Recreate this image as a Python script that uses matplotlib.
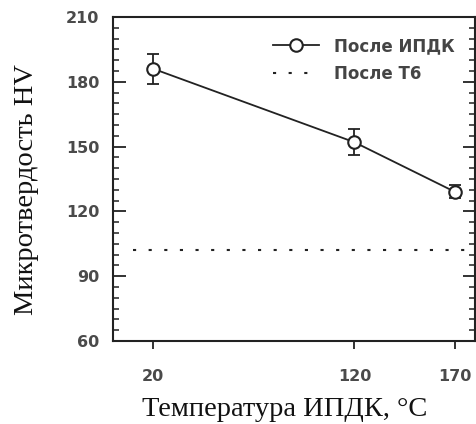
import matplotlib.pyplot as plt
from matplotlib.ticker import MultipleLocator

# данные
temp = [20, 120, 170]
hv = [186, 152, 129]
hv_err = [7, 6, 3]
t6_x = [10, 180]
t6_hv = [102, 102]
xticks = [20, 120, 170]
yticks = [60, 90, 120, 150, 180, 210]

fig = plt.figure(figsize=(4.77, 4.24), dpi=100)
ax = fig.add_axes([0.237, 0.196, 0.759, 0.764])

ax.errorbar(temp, hv, yerr=hv_err, fmt='none', ecolor='#222222',
            capsize=4, elinewidth=1.3, capthick=1.3, zorder=2)
ax.plot(temp, hv, color='#222222', lw=1.3, marker='o', ms=9, mfc='white',
        mec='#222222', mew=1.5, label='После ИПДК', zorder=3)
ax.plot(t6_x, t6_hv, color='#222222', lw=1.5, linestyle=(0, (1.5, 6)),
        label='После Т6')

ax.set_xlim(0, 180)
ax.set_ylim(60, 210)
ax.set_xticks(xticks)
ax.set_yticks(yticks)
ax.yaxis.set_minor_locator(MultipleLocator(5))

tick_font = dict(fontsize=11.5, fontweight='bold', color='#4a4a4a')
ax.set_xticklabels([str(t) for t in xticks], **tick_font)
ax.set_yticklabels([str(t) for t in yticks], **tick_font)

ax.tick_params(axis='x', direction='out', length=6, width=1.3, pad=14,
               colors='#222222', labelcolor='#4a4a4a')
ax.tick_params(axis='y', which='major', direction='in', length=9, width=1.3,
               right=True, pad=10, colors='#222222', labelcolor='#4a4a4a')
ax.tick_params(axis='y', which='minor', direction='in', length=4, width=1.1,
               right=True, colors='#222222')

for s in ax.spines.values():
    s.set_linewidth(1.5)
    s.set_color('#222222')

ax.set_xlabel('Температура ИПДК, °C', family='Liberation Serif', fontsize=20.5,
              color='#111111')
ax.set_ylabel('Микротвердость HV', family='Liberation Serif', fontsize=20.5,
              color='#111111')
ax.xaxis.set_label_coords(0.475, -0.174)
ax.yaxis.set_label_coords(-0.204, 0.466)

leg = ax.legend(loc='upper right', frameon=False, handlelength=2.8,
                prop={'weight': 'bold', 'size': 12}, labelspacing=0.6,
                handletextpad=0.9, borderaxespad=0.8)
for t in leg.get_texts():
    t.set_color('#444444')

fig.savefig('out.png', dpi=100)
